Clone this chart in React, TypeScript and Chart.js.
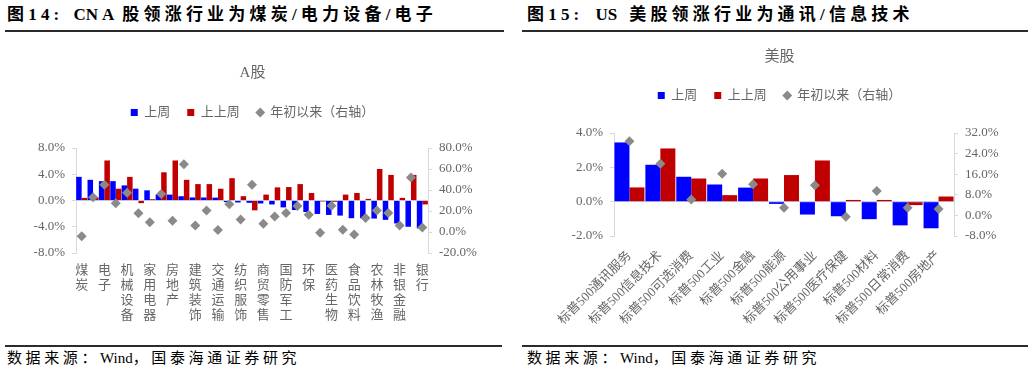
import React, { useEffect, useRef } from 'react';
import { Chart, registerables } from 'chart.js';

Chart.register(...registerables);

const FONT = "'Liberation Serif', 'Noto Sans CJK SC', serif";
const BLUE = '#0000FF';
const RED = '#C00000';
const DIAMOND = '#8A8A8A';
const TEXT = '#666666';
const AXIS = '#D9D9D9';
const ZERO = '#C4C4E4';

const seriesNames = ['上周', '上上周', '年初以来（右轴）'];

// ---- A股 ----
const cnCategories = ['煤炭', '电力设备', '电子', '基础化工', '机械设备', '钢铁', '家用电器', '汽车', '房地产', '有色金属', '建筑装饰', '建筑材料', '交通运输', '轻工制造', '纺织服饰', '综合', '商贸零售', '公用事业', '国防军工', '计算机', '环保', '石油石化', '医药生物', '社会服务', '食品饮料', '美容护理', '农林牧渔', '传媒', '非银金融', '通信', '银行'];
const cnLastWeek = [3.6, 3.15, 2.95, 2.95, 2.3, 1.8, 1.55, 0.92, 0.9, 0.65, 0.47, 0.46, 0.44, -0.25, -0.3, -0.35, -0.45, -0.6, -1.05, -1.45, -1.75, -2.05, -2.2, -2.3, -2.7, -2.7, -2.75, -2.95, -3.5, -4.0, -4.25];
const cnPrevWeek = [0.4, 0.5, 6.1, 1.8, 3.6, -0.4, 0.2, 4.3, 6.1, 3.15, 2.5, 2.5, 1.8, 3.4, 0.66, -1.5, 0.9, 2.0, 2.05, 2.5, 1.15, -0.15, -0.2, 0.9, 1.15, 0.25, 4.8, 3.9, 0.4, 3.9, -0.6];
const cnYtd = [-4.0, 33, 45, 27.5, 37.4, 17.8, 9.2, 36.3, 10.6, 64.5, 6.1, 20.5, 2.0, 26.4, 11.8, 45, 7.9, 14.8, 18, 24.8, 16.5, -0.8, 25, 2.2, -2.4, 13.4, 20.5, 18, 6.3, 51.8, 4.4];
const cnLeftTicks = [-8, -4, 0, 4, 8];
const cnRightTicks = [-20, 0, 20, 40, 60, 80];

// ---- 美股 ----
const usCategories = ['标普500通讯服务', '标普500信息技术', '标普500可选消费', '标普500工业', '标普500金融', '标普500能源', '标普500公用事业', '标普500医疗保健', '标普500材料', '标普500日常消费', '标普500房地产'];
const usLastWeek = [3.45, 2.15, 1.45, 1.0, 0.82, -0.13, -0.75, -0.85, -1.02, -1.38, -1.55];
const usPrevWeek = [0.83, 3.1, 1.35, 0.38, 1.35, 1.55, 2.4, 0.1, 0.1, -0.2, 0.3];
const usYtd = [28.8, 20.1, 6.2, 16.2, 12.1, 3.0, 11.7, -0.5, 9.5, 3.0, 2.5];
const usLeftTicks = [-2, 0, 2, 4];
const usRightTicks = [-8, 0, 8, 16, 24, 32];

function legendGap(extra: number) {
  return {
    id: 'legendGap',
    beforeInit(chart: any) {
      const lg = chart.legend;
      if (!lg || lg.__patched) return;
      const fit = lg.fit;
      lg.fit = function () {
        fit.call(this);
        this.height += extra;
      };
      lg.__patched = true;
    },
  };
}

const pct = (v: any) => Number(v).toFixed(1) + '%';

function yAxis(ticksArr: number[], position: 'left' | 'right', width: number, zeroLine: boolean) {
  return {
    type: 'linear',
    position,
    min: ticksArr[0],
    max: ticksArr[ticksArr.length - 1],
    afterBuildTicks: (s: any) => {
      s.ticks = ticksArr.map((v) => ({ value: v }));
    },
    afterFit: (s: any) => {
      s.width = width;
    },
    border: { display: true, color: AXIS, width: 1 },
    grid: {
      drawOnChartArea: zeroLine,
      color: (c: any) => (zeroLine && c.tick && c.tick.value === 0 ? ZERO : 'rgba(0,0,0,0)'),
      lineWidth: 1,
      tickColor: AXIS,
      tickLength: 4,
      drawTicks: true,
    },
    ticks: {
      color: TEXT,
      font: { size: 13, family: FONT },
      padding: 7,
      callback: pct,
    },
  };
}

function makeConfig(opts: {
  categories: string[];
  last: number[];
  prev: number[];
  ytd: number[];
  leftTicks: number[];
  rightTicks: number[];
  title: string;
  titlePad: { top: number; bottom: number };
  gap: number;
  leftW: number;
  rightW: number;
  xH: number;
  xTicks: any;
}): any {
  return {
    type: 'bar',
    data: {
      labels: opts.categories,
      datasets: [
        {
          label: seriesNames[0],
          data: opts.last,
          backgroundColor: BLUE,
          borderWidth: 0,
          yAxisID: 'y',
          pointStyle: 'rect',
          order: 1,
          barPercentage: 1,
          categoryPercentage: 0.97,
        },
        {
          label: seriesNames[1],
          data: opts.prev,
          backgroundColor: RED,
          borderWidth: 0,
          yAxisID: 'y',
          pointStyle: 'rect',
          order: 1,
          barPercentage: 1,
          categoryPercentage: 0.97,
        },
        {
          type: 'line',
          label: seriesNames[2],
          data: opts.ytd,
          yAxisID: 'y1',
          showLine: false,
          pointStyle: 'rectRot',
          pointRadius: 5,
          pointHoverRadius: 5,
          pointBackgroundColor: DIAMOND,
          pointBorderColor: DIAMOND,
          pointBorderWidth: 0,
          backgroundColor: DIAMOND,
          borderColor: DIAMOND,
          borderWidth: 0,
          order: 0,
        },
      ],
    },
    options: {
      responsive: false,
      maintainAspectRatio: false,
      animation: false,
      devicePixelRatio: 1,
      events: [],
      layout: { padding: 0 },
      plugins: {
        title: {
          display: true,
          text: opts.title,
          color: TEXT,
          font: { size: 15, family: FONT, weight: 'normal' },
          padding: opts.titlePad,
        },
        legend: {
          display: true,
          position: 'top',
          labels: {
            usePointStyle: true,
            boxWidth: 7,
            boxHeight: 7,
            padding: 17,
            color: TEXT,
            font: { size: 13, family: FONT },
            sort: (a: any, b: any) => a.datasetIndex - b.datasetIndex,
          },
        },
        tooltip: { enabled: false },
      },
      scales: {
        x: {
          grid: { display: false },
          border: { display: false },
          afterFit: (s: any) => {
            s.height = opts.xH;
          },
          ticks: opts.xTicks,
        },
        y: yAxis(opts.leftTicks, 'left', opts.leftW, true),
        y1: yAxis(opts.rightTicks, 'right', opts.rightW, false),
      },
    },
    plugins: [legendGap(opts.gap)],
  };
}

const ruleStyle = (left: number, top: number, width: number): React.CSSProperties => ({
  position: 'absolute',
  left,
  top,
  width,
  height: 2,
  background: '#2b2b2b',
});

const headStyle = (left: number, ls: number): React.CSSProperties => ({
  position: 'absolute',
  left,
  top: 4,
  fontFamily: FONT,
  fontWeight: 'bold',
  fontSize: 17,
  lineHeight: '22px',
  letterSpacing: ls + 'px',
  whiteSpace: 'pre',
  color: '#000',
});

const footStyle = (left: number): React.CSSProperties => ({
  position: 'absolute',
  left,
  top: 348,
  fontFamily: FONT,
  fontSize: 15,
  lineHeight: '20px',
  letterSpacing: '3.6px',
  whiteSpace: 'pre',
  color: '#000',
});

const latin = (ml: number): React.CSSProperties => ({ letterSpacing: '0px', marginLeft: ml });

function Footer({ left }: { left: number }) {
  return (
    <div style={footStyle(left)}>
      {'数据来源：'}
      <span style={latin(0)}>Wind</span>
      {'，国泰海通证券研究'}
    </div>
  );
}

export default function App() {
  const cnRef = useRef<HTMLCanvasElement | null>(null);
  const usRef = useRef<HTMLCanvasElement | null>(null);

  useEffect(() => {
    const cn = new Chart(
      cnRef.current as HTMLCanvasElement,
      makeConfig({
        categories: cnCategories,
        last: cnLastWeek,
        prev: cnPrevWeek,
        ytd: cnYtd,
        leftTicks: cnLeftTicks,
        rightTicks: cnRightTicks,
        title: 'A股',
        titlePad: { top: 24, bottom: 7 },
        gap: 19,
        leftW: 76,
        rightW: 77,
        xH: 77,
        xTicks: {
          autoSkip: false,
          maxRotation: 0,
          minRotation: 0,
          color: TEXT,
          padding: 2,
          font: { size: 13, family: FONT, lineHeight: 1.15 },
          callback: function (this: any, _v: any, i: number) {
            return i % 2 === 0 ? cnCategories[i].split('') : '';
          },
        },
      })
    );
    const us = new Chart(
      usRef.current as HTMLCanvasElement,
      makeConfig({
        categories: usCategories,
        last: usLastWeek,
        prev: usPrevWeek,
        ytd: usYtd,
        leftTicks: usLeftTicks,
        rightTicks: usRightTicks,
        title: '美股',
        titlePad: { top: 8, bottom: 6 },
        gap: 21,
        leftW: 87,
        rightW: 78,
        xH: 94,
        xTicks: {
          autoSkip: false,
          maxRotation: 45,
          minRotation: 45,
          color: TEXT,
          padding: 4,
          font: { size: 13, family: FONT },
        },
      })
    );
    return () => {
      cn.destroy();
      us.destroy();
    };
  }, []);

  return (
    <div
      style={{
        position: 'absolute',
        left: 0,
        top: 0,
        width: 1032,
        height: 371,
        background: '#fff',
        overflow: 'hidden',
      }}
    >
      <div style={headStyle(7, 4.2)}>
        {'图14:'}
        <span style={latin(10)}>CN</span>
        <span style={latin(4)}>A</span>
        <span style={{ marginLeft: 8 }}>{'股领涨行业为煤炭/电力设备/电子'}</span>
      </div>
      <div style={ruleStyle(5, 30, 499)} />
      <div style={headStyle(527, 4.2)}>
        {'图15:'}
        <span style={latin(12)}>US</span>
        <span style={{ marginLeft: 12 }}>{'美股领涨行业为通讯/信息技术'}</span>
      </div>
      <div style={ruleStyle(522, 30, 506)} />

      <canvas
        ref={cnRef}
        width={505}
        height={290}
        style={{ position: 'absolute', left: 0, top: 40, width: 505, height: 290 }}
      />
      <canvas
        ref={usRef}
        width={505}
        height={290}
        style={{ position: 'absolute', left: 527, top: 40, width: 505, height: 290 }}
      />

      <div style={ruleStyle(5, 345, 497)} />
      <div style={ruleStyle(522, 345, 506)} />
      <Footer left={7} />
      <Footer left={527} />
    </div>
  );
}
